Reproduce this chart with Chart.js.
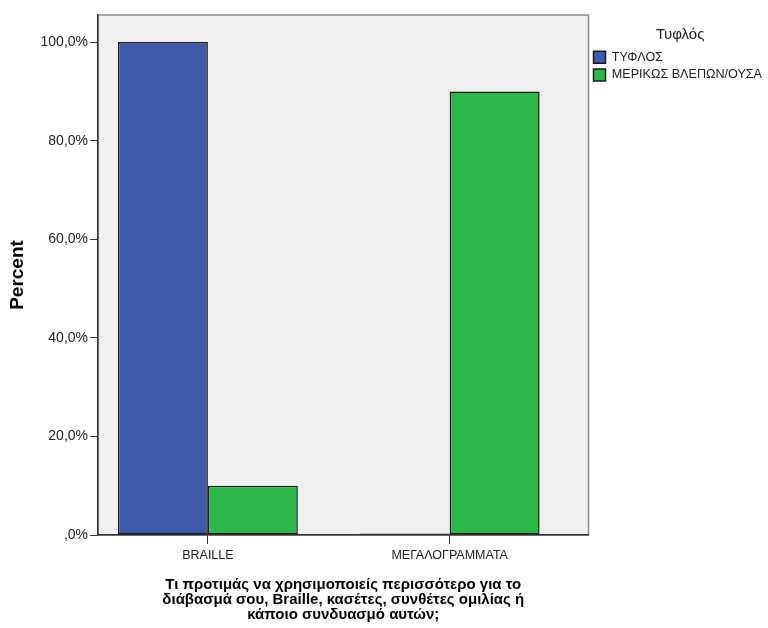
<!DOCTYPE html>
<html>
<head>
<meta charset="utf-8">
<script src="https://cdn.jsdelivr.net/npm/chart.js@4/dist/chart.umd.min.js"></script>
<style>
  html, body { margin: 0; padding: 0; background: #fff; }
  #wrap { width: 768px; height: 628px; }
</style>
</head>
<body>
<div id="wrap"><canvas id="barChart" width="768" height="628"></canvas></div>
<script>
// data
var categories = ['BRAILLE', 'ΜΕΓΑΛΟΓΡΑΜΜΑΤΑ'];
var seriesNames = ['ΤΥΦΛΟΣ', 'ΜΕΡΙΚΩΣ ΒΛΕΠΩΝ/ΟΥΣΑ'];
var blindValues = [100, 0];
var partialValues = [10, 90];
var yTickValues = [0, 20, 40, 60, 80, 100];
var yTickLabels = [',0%', '20,0%', '40,0%', '60,0%', '80,0%', '100,0%'];
var xTitle = ['Τι προτιμάς να χρησιμοποιείς περισσότερο για το',
              'διάβασμά σου, Braille, κασέτες, συνθέτες ομιλίας ή',
              'κάποιο συνδυασμό αυτών;'];

var FONT = '"Liberation Sans", Arial, sans-serif';

function toPoints(values) {
  return values.map(function (v, i) { return { x: i, y: v }; });
}

// grey plot panel with a thin frame, like the SPSS output
var panelPlugin = {
  id: 'panel',
  beforeDraw: function (chart) {
    var a = chart.chartArea, c = chart.ctx;
    c.save();
    c.fillStyle = '#f0f0f0';
    c.fillRect(a.left, a.top, a.right - a.left, a.bottom - a.top);
    c.strokeStyle = '#8a8a8a';
    c.lineWidth = 1.5;
    c.strokeRect(a.left, a.top, a.right - a.left, a.bottom - a.top);
    c.restore();
  }
};

document.addEventListener('DOMContentLoaded', function () {
  var ctx = document.getElementById('barChart').getContext('2d');

  var data = {
    datasets: [{
      label: seriesNames[0],
      data: toPoints(blindValues),
      backgroundColor: '#3e58ac',
      borderColor: '#1a1a1a',
      borderWidth: 1.5,
      borderSkipped: false,
      minBarLength: 1.5
    }, {
      label: seriesNames[1],
      data: toPoints(partialValues),
      backgroundColor: '#2db84a',
      borderColor: '#1a1a1a',
      borderWidth: 1.5,
      borderSkipped: false,
      minBarLength: 1.5
    }]
  };

  var options = {
    responsive: false,
    animation: false,
    maintainAspectRatio: false,
    categoryPercentage: 0.744,
    barPercentage: 1.0,
    layout: { padding: { top: 15, right: -4, bottom: 0, left: 0 } },
    plugins: {
      tooltip: { enabled: false },
      legend: {
        position: 'right',
        align: 'start',
        title: {
          display: true,
          text: 'Τυφλός',
          color: '#222',
          font: { family: FONT, size: 15 },
          padding: { top: 12, bottom: 1 }
        },
        labels: {
          boxWidth: 12,
          boxHeight: 12,
          padding: 5,
          color: '#222',
          font: { family: FONT, size: 12.6 }
        }
      }
    },
    scales: {
      x: {
        type: 'linear',
        min: -0.4545,
        max: 1.5744,
        offset: false,
        afterFit: function (scale) { scale.height = 93; },
        ticks: {
          stepSize: 1,
          includeBounds: false,
          color: '#222',
          padding: 4,
          font: { family: FONT, size: 12.5 },
          maxRotation: 0,
          callback: function (value) {
            return Number.isInteger(value) ? categories[value] : '';
          }
        },
        grid: {
          offset: false,
          drawOnChartArea: false,
          drawTicks: true,
          tickLength: 9,
          color: '#333'
        },
        border: { display: true, color: '#333', width: 1.5 },
        title: {
          display: true,
          text: xTitle,
          color: '#000',
          font: { family: FONT, size: 15, weight: 'bold', lineHeight: 1.0 },
          padding: { top: 0, bottom: 6 }
        }
      },
      y: {
        min: 0,
        max: 105.5,
        afterFit: function (scale) { scale.width = 98; },
        ticks: {
          stepSize: 20,
          includeBounds: false,
          color: '#222',
          padding: 2,
          font: { family: FONT, size: 14 },
          callback: function (value) {
            var i = yTickValues.indexOf(value);
            return i >= 0 ? yTickLabels[i] : '';
          }
        },
        grid: {
          drawOnChartArea: false,
          drawTicks: true,
          tickLength: 8,
          color: '#333'
        },
        border: { display: true, color: '#333', width: 1.5 },
        title: {
          display: true,
          text: 'Percent',
          color: '#000',
          font: { family: FONT, size: 19, weight: 'bold' },
          padding: { top: 6, bottom: 0 }
        }
      }
    }
  };

  var myBarChart = new Chart(ctx, {
    type: 'bar',
    data: data,
    options: options,
    plugins: [panelPlugin]
  });
});
</script>
</body>
</html>
